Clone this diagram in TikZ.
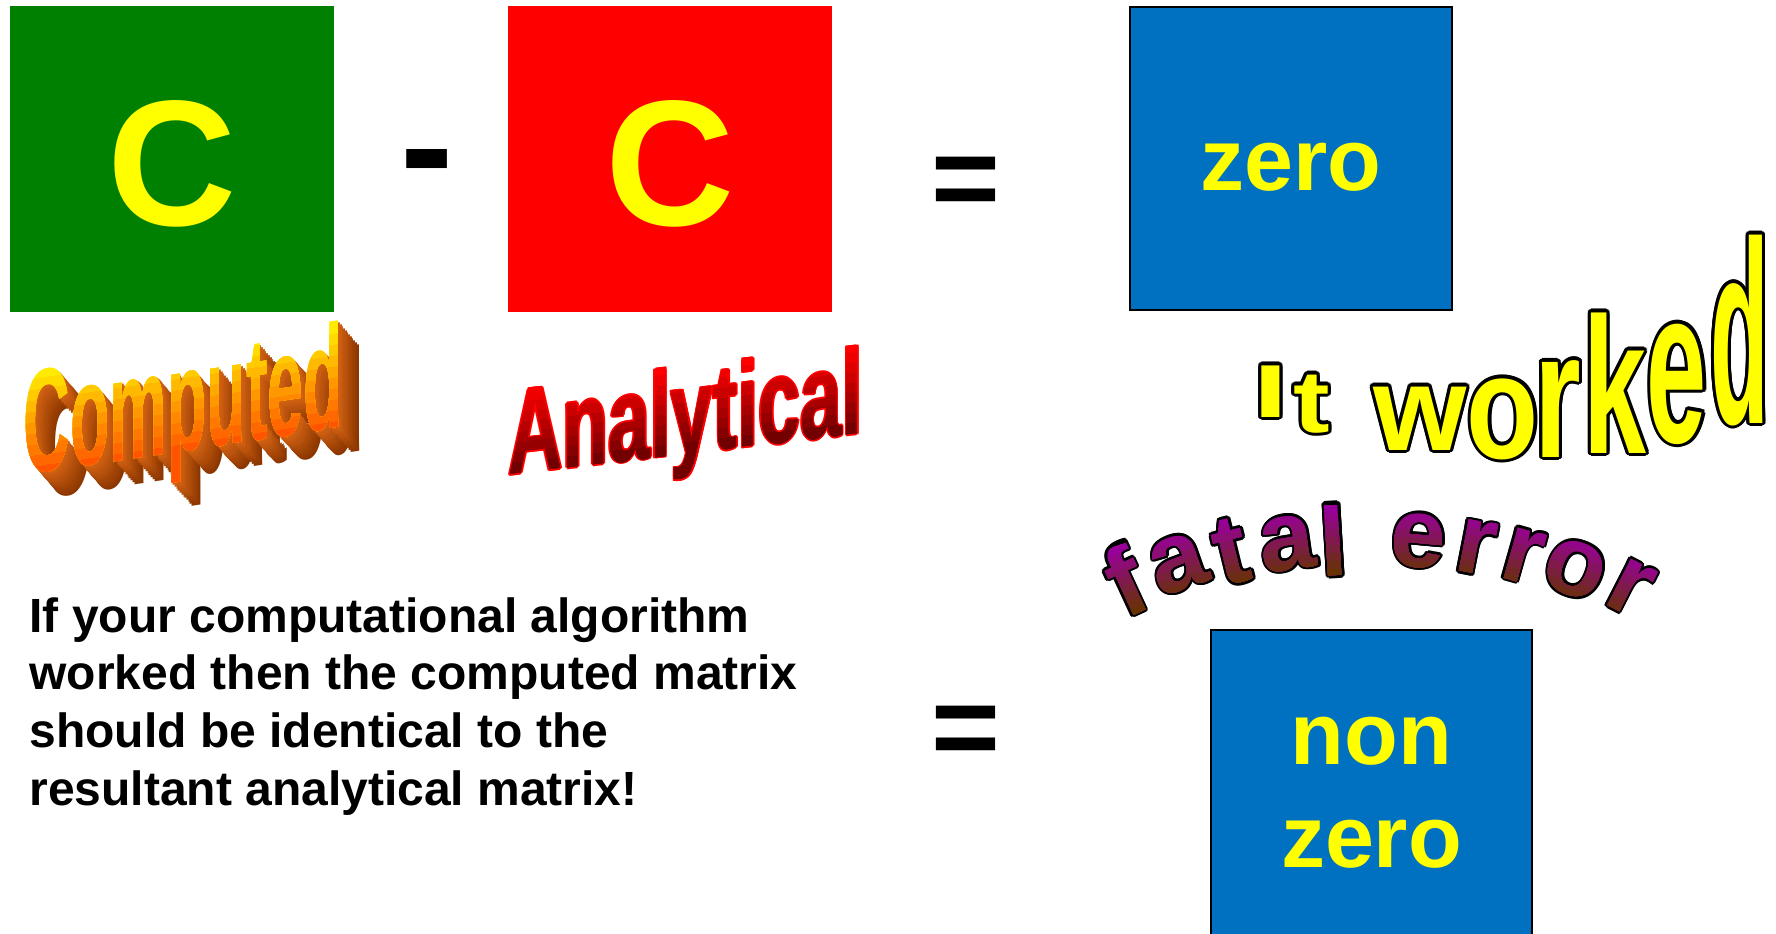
\documentclass[tikz,border=0pt]{standalone}
\usepackage{fontspec}
\setmainfont{Liberation Sans}
\usepackage{graphicx}
\usepackage{tikz}
\usetikzlibrary{positioning}

\definecolor{matgreen}{RGB}{0,128,0}
\definecolor{matred}{RGB}{255,0,0}
\definecolor{matblue}{RGB}{0,112,192}
\definecolor{matyellow}{RGB}{255,255,0}
\definecolor{compTop}{RGB}{255,235,0}
\definecolor{compBot}{RGB}{255,85,0}
\definecolor{compNear}{RGB}{215,100,20}
\definecolor{compFar}{RGB}{140,55,0}
\definecolor{anaTop}{RGB}{255,0,0}
\definecolor{anaBot}{RGB}{115,0,0}
\definecolor{fatalTop}{RGB}{153,0,153}
\definecolor{fatalBot}{RGB}{102,51,0}

\newcommand\sizefont[2]{\fontsize{#1}{#2}\selectfont\bfseries}
% letter / angle along the arch
\def\fatalletters{f/-19.1, a/-14.8, t/-10.6, a/-6.2, l/-2.6, e/4.0, r/8.5, r/12.2, o/16.4, r/20.9}

\begin{document}
\begin{tikzpicture}[
    x=0.5pt, y=-0.5pt,
    mbox/.style={rectangle, inner sep=0pt, outer sep=0pt},
    bigC/.style={inner sep=0pt, anchor=base, text=matyellow, font=\sizefont{89.5}{90}},
    optext/.style={inner sep=0pt, anchor=base, font=\sizefont{59}{59}},
    boxtext/.style={inner sep=0pt, text=matyellow, align=center, font=\sizefont{44}{51.5}},
    note/.style={inner sep=0pt, anchor=north west, align=left, font=\sizefont{24}{28.9}},
    comp/.style={inner sep=0pt, anchor=base west, transform shape, font=\sizefont{73.5}{74}},
    ana/.style={inner sep=0pt, anchor=base west, transform shape, font=\sizefont{60.5}{61}},
    wk/.style={inner sep=0pt, anchor=base, font=\sizefont{50}{50}},
    fe/.style={inner sep=0pt, anchor=center, font=\sizefont{49.5}{50}}
  ]
  \useasboundingbox (0,0) rectangle (1776,933);
  \clip (0,0) rectangle (1776,933);
  \fill[white] (0,0) rectangle (1776,933);

  % matrix boxes
  \node[mbox, fill=matgreen, minimum width=162pt, minimum height=153pt] (cbox) at (172,159) {};
  \node[mbox, fill=matred, minimum width=162pt, minimum height=153pt] (abox) at (670,159) {};
  \node[mbox, fill=matblue, draw=black, line width=1pt,
        minimum width=161pt, minimum height=151.5pt] (zbox) at (1291,158.5) {};
  \node[mbox, fill=matblue, draw=black, line width=1pt,
        minimum width=160.5pt, minimum height=155pt] (nzbox) at (1371.5,785) {};

  % box texts and operators
  \node[bigC] (cc) at (172,225) {C};
  \node[bigC] (ac) at (670,225) {C};
  \node[optext, font=\sizefont{80}{80}] (minus) at (427,200) {-};
  \node[optext] (eq1) at (966,218) {=};
  \node[optext] (eq2) at (966,767) {=};
  \node[boxtext, anchor=base] (ztxt) at (1291,190) {zero};
  \node[boxtext, anchor=north] (nztxt) at (1371.5,717) {non\\zero};

  % explanation
  \node[note] (msg) at (29,597) {If your computational algorithm\\worked then the computed matrix\\should be identical to the\\resultant analytical matrix!};

  % Computed, extruded
  \begin{scope}[shift={(23,475)}, yslant=0.15]
    \foreach \k in {12,...,1} {
      \pgfmathtruncatemacro\pct{100*\k/12}
      \node[comp, text=compFar!\pct!compNear] (ext\k) at (\k*1.7,\k*2.2) {\scalebox{0.44}[1]{Computed}};
    }
    \node[comp, text=compTop] (comp) at (0,0) {\scalebox{0.44}[1]{Computed}};
    \foreach \k in {1,...,9} {
      \pgfmathtruncatemacro\pct{100*\k/9}
      \begin{scope}
        \clip (-20,-106+\k*11) rectangle (400,40);
        \node[comp, text=compBot!\pct!compTop] (comp\k) at (0,0) {\scalebox{0.44}[1]{Computed}};
      \end{scope}
    }
  \end{scope}

  % Analytical
  \begin{scope}[shift={(508,475)}, yslant=0.118]
    \foreach \a in {0,45,...,315}
      \node[ana, text=matred, shift={(\a:1.6)}] (anae\a) at (0,0) {\scalebox{0.62}[1]{Analytical}};
    \node[ana, text=anaTop] (ana) at (0,0) {\scalebox{0.62}[1]{Analytical}};
    \foreach \k in {1,...,8} {
      \pgfmathtruncatemacro\pct{100*\k/8}
      \begin{scope}
        \clip (-20,-92+\k*10) rectangle (420,40);
        \node[ana, text=anaBot!\pct!anaTop] (ana\k) at (0,0) {\scalebox{0.62}[1]{Analytical}};
      \end{scope}
    }
  \end{scope}

  % It worked, growing letters
  \foreach \ch/\px/\py/\sx/\sy [count=\n] in {I/1271/417/1.25/0.75, t/1312/432/1.1/0.88,
      w/1420/450/1.2/1.2, o/1503/458/1.18/1.48, r/1558/457/1.2/1.8,
      k/1615/453/1.13/1.94, e/1677/442/1.08/2.2, d/1740/423/0.96/2.6} {
    \foreach \a in {0,22.5,...,337.5}
      \node[wk, text=black, shift={(\a:3.2)}] (wko\n-\a) at (\px,\py) {\scalebox{\sx}[\sy]{\ch}};
    \node[wk, text=matyellow] (wk\n) at (\px,\py) {\scalebox{\sx}[\sy]{\ch}};
  }

  % fatal error, arched
  \coordinate (fc) at (1367,1278);
  \foreach \ch/\t [count=\n] in \fatalletters
    \foreach \a in {0,30,...,330}
      \node[fe, text=black, rotate=-1.3*\t, shift={(\a:2.6)}] (feo\n-\a) at ([shift={(270+\t:739)}]fc) {\ch};
  \foreach \k in {0,...,8} {
    \pgfmathtruncatemacro\pct{100*\k/8}
    \begin{scope}
      \clip (fc) circle[radius=774-\k*8];
      \foreach \ch/\t [count=\n] in \fatalletters
        \node[fe, text=fatalBot!\pct!fatalTop, rotate=-1.3*\t] (fe\n-\k) at ([shift={(270+\t:739)}]fc) {\ch};
    \end{scope}
  }
\end{tikzpicture}
\end{document}
